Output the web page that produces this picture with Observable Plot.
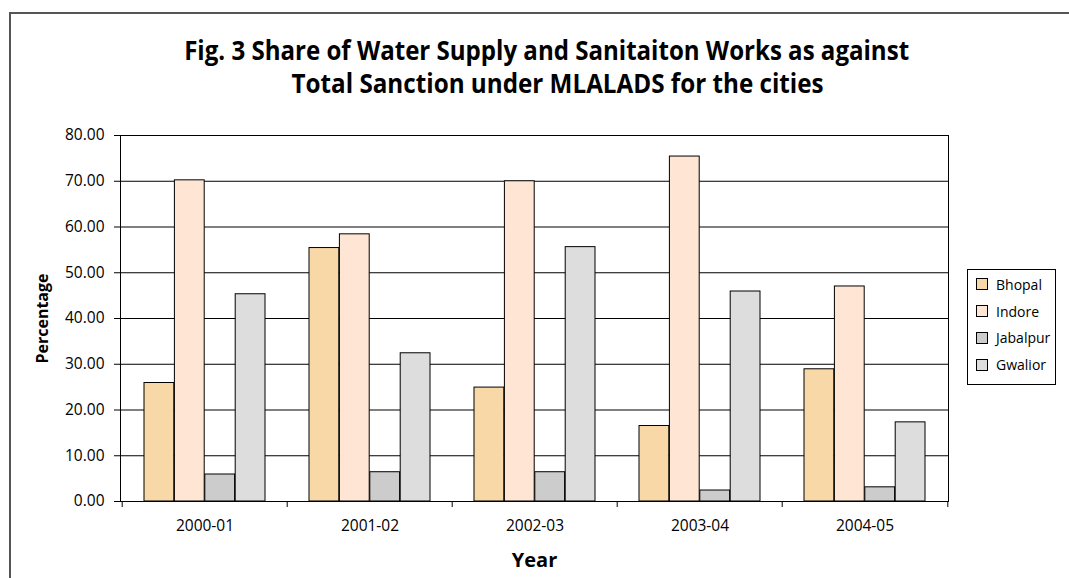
<!DOCTYPE html>
<html>
<head>
<meta charset="utf-8">
<script src="https://cdn.jsdelivr.net/npm/d3@7"></script>
<script src="https://cdn.jsdelivr.net/npm/@observablehq/plot@0.6"></script>
<style>
  html, body { margin: 0; padding: 0; background: #fff; }
  body { width: 1069px; height: 578px; overflow: hidden; position: relative; font-family: "Open Sans", sans-serif; color: #000; }
  #border { position: absolute; left: 9px; top: 12px; width: 1100px; height: 620px; border: 2px solid #555; box-sizing: border-box; }
  #title { position: absolute; left: 0; top: 34px; width: 1106px; text-align: center;
           font-family: "Open Sans", sans-serif; font-weight: bold; font-size: 26px; line-height: 33px; }
  #title span { display: inline-block; white-space: nowrap; transform-origin: center; }
  #chart { position: absolute; left: 0; top: 125px; }
  #legend { position: absolute; left: 967px; top: 269px; width: 89px; height: 116px; border: 1px solid #000;
            box-sizing: border-box; background: #fff; padding-top: 1px; font-size: 14px; }
  .item { height: 26.8px; display: flex; align-items: center; white-space: nowrap; }
  .sw { width: 10px; height: 10px; border: 1px solid #000; margin-left: 8px; margin-right: 8px; flex: none; }
</style>
</head>
<body>
<div id="border"></div>
<div id="title"><span data-w="725" data-dx="-6">Fig. 3 Share of Water Supply and Sanitaiton Works as against</span><br><span data-w="532" data-dx="5">Total Sanction under MLALADS for the cities</span></div>
<div id="chart"></div>
<div id="legend"></div>
<script>
// Financial years on the category axis
const years = ["2000-01", "2001-02", "2002-03", "2003-04", "2004-05"];
// Cities (series)
const cities = ["Bhopal", "Indore", "Jabalpur", "Gwalior"];
// Share (%) of water supply & sanitation works in total MLALADS sanction
const bhopal   = [25.9, 55.4, 24.9, 16.5, 28.9];
const indore   = [70.2, 58.4, 70.0, 75.4, 47.0];
const jabalpur = [5.9, 6.4, 6.4, 2.4, 3.1];
const gwalior  = [45.3, 32.4, 55.6, 45.9, 17.3];
const colors   = ["#F9D8A8", "#FFE5D4", "#CCCCCC", "#DDDDDD"];
const yTicks   = [0, 10, 20, 30, 40, 50, 60, 70, 80];

const series = [bhopal, indore, jabalpur, gwalior];
const rows = cities.flatMap((city, j) => years.map((year, i) => ({ year, city, value: series[j][i] })));

// layout
const W = 1069, H = 453;
const mL = 120, mR = 121, mT = 10, mB = 77;
const step = (W - mL - mR) / years.length;   // width of one year group
const barW = 30.4;                            // width of each city bar
const gap = (step - cities.length * barW) / 2;

const bars = cities.map((city, j) => Plot.barY(rows.filter(d => d.city === city), {
  x: "year", y: "value", fill: "city", stroke: "#000", strokeWidth: 1,
  insetLeft: gap + j * barW, insetRight: gap + (cities.length - 1 - j) * barW
}));

const chart = Plot.plot({
  width: W, height: H,
  marginLeft: mL, marginRight: mR, marginTop: mT, marginBottom: mB,
  style: { fontFamily: "'Open Sans', sans-serif", fontSize: "15.5px", color: "#000", background: "transparent", overflow: "visible" },
  x: { domain: years, padding: 0 },
  y: { domain: [0, 80] },
  color: { domain: cities, range: colors },
  marks: [
    Plot.ruleY(yTicks, { stroke: "#000", strokeWidth: 1 }),
    ...bars,
    Plot.frame({ stroke: "#000", strokeWidth: 1 }),
    Plot.axisY({ ticks: yTicks, tickFormat: d => d.toFixed(2), tickSize: 6, tickPadding: 10, label: null, fill: "#000" }),
    Plot.axisX({ tickSize: 0, tickPadding: 18, label: null, fill: "#000" }),
    Plot.axisX({ tickSize: 6, tickFormat: () => "", dx: -step / 2, label: null }),
    Plot.axisX({ ticks: [years[years.length - 1]], tickSize: 6, tickFormat: () => "", dx: step / 2, label: null }),
    Plot.text(["Percentage"], { text: d => d, frameAnchor: "left", textAnchor: "middle", dx: -78, rotate: -90, fontWeight: "bold", fontSize: 16 }),
    Plot.text(["Year"], { text: d => d, frameAnchor: "bottom", dy: 65, fontWeight: "bold", fontSize: 20 })
  ]
});
document.getElementById("chart").appendChild(chart);

// title lines: condense each line horizontally to its set width
document.querySelectorAll("#title span").forEach(s => {
  const w = s.getBoundingClientRect().width;
  s.style.transform = `translateX(${s.dataset.dx}px) scaleX(${(+s.dataset.w / w).toFixed(4)})`;
});

// legend
const legend = d3.select("#legend");
cities.forEach((c, j) => {
  const it = legend.append("div").attr("class", "item");
  it.append("div").attr("class", "sw").style("background", colors[j]);
  it.append("span").text(c);
});
</script>
</body>
</html>
